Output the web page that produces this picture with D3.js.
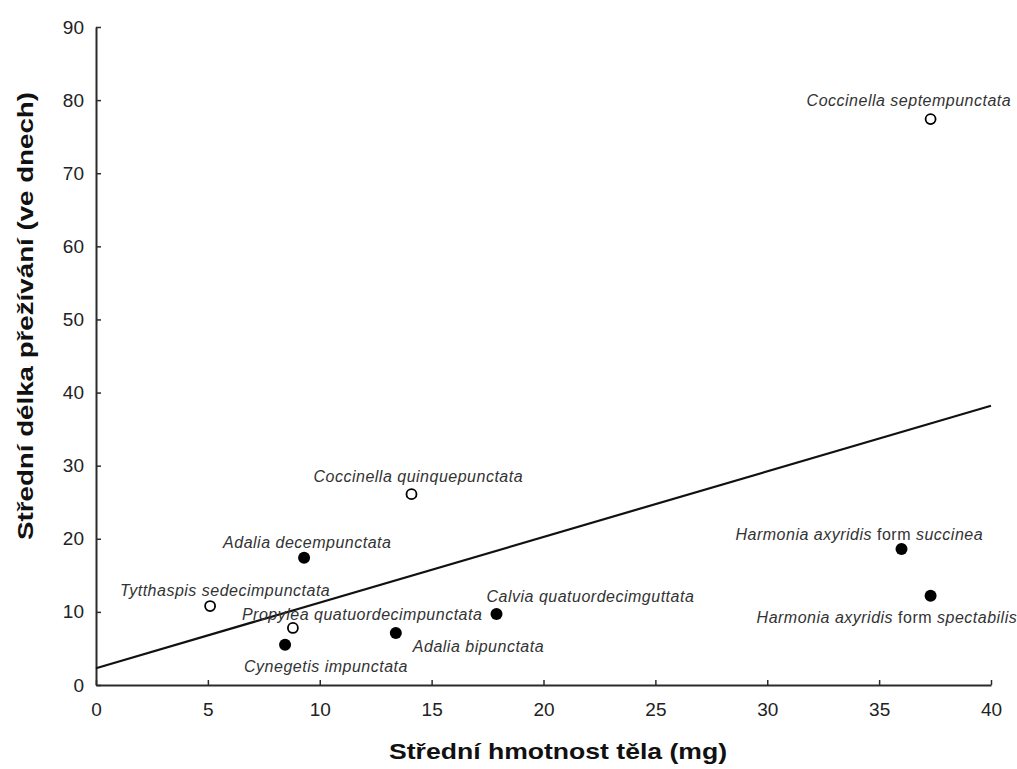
<!DOCTYPE html>
<html>
<head>
<meta charset="utf-8">
<script src="https://cdn.jsdelivr.net/npm/d3@7"></script>
<style>
  body { margin: 0; background: #fff; }
  svg text { font-family: "Liberation Sans", Arial, sans-serif; }
</style>
</head>
<body>
<svg id="chart" width="1017" height="769"></svg>
<script>
// species, body mass (mg), survival (days), open/filled marker
const species = [
  'Coccinella septempunctata',
  'Coccinella quinquepunctata',
  'Adalia decempunctata',
  'Tytthaspis sedecimpunctata',
  'Propylea quatuordecimpunctata',
  'Cynegetis impunctata',
  'Adalia bipunctata',
  'Calvia quatuordecimguttata',
  'Harmonia axyridis form succinea',
  'Harmonia axyridis form spectabilis'
];
const mass = [37.3, 14.1, 9.3, 5.1, 8.8, 8.45, 13.4, 17.9, 36.0, 37.3];
const survival = [77.4, 26.1, 17.4, 10.8, 7.8, 5.5, 7.1, 9.7, 18.6, 12.2];
const openMarker = [true, true, false, true, true, false, false, false, false, false];

const regressionX = [0, 40];
const regressionY = [2.3, 38.2];

const xTicks = [0, 5, 10, 15, 20, 25, 30, 35, 40];
const yTicks = [0, 10, 20, 30, 40, 50, 60, 70, 80, 90];

// label placement relative to its point (px): [dx, dy]
const labelPlace = [
  [-124, -13],
  [-98, -12],
  [-81, -10],
  [-90, -10],
  [-51, -8],
  [-41, 27],
  [17, 19],
  [-10, -12],
  [-166, -9],
  [-174, 27]
];

const svg = d3.select('#chart');
const x = d3.scaleLinear().domain([0, 40]).range([96, 991]);
const y = d3.scaleLinear().domain([0, 90]).range([685, 27]);
const ink = '#2b2b2b';

//X axis
const gx = svg.append('g').attr('transform', `translate(0,${y(0)})`)
  .call(d3.axisBottom(x).tickValues(xTicks).tickSizeInner(-5).tickSizeOuter(0).tickPadding(18));
//Y axis
const gy = svg.append('g').attr('transform', `translate(${x(0)},0)`)
  .call(d3.axisLeft(y).tickValues(yTicks).tickSizeInner(-5).tickSizeOuter(0).tickPadding(12));

[gx, gy].forEach(g => {
  g.select('.domain').attr('stroke', ink).attr('stroke-width', 2);
  g.selectAll('.tick line').attr('stroke', ink).attr('stroke-width', 1.5);
  g.selectAll('.tick text').attr('fill', '#222').attr('font-size', 19)
    .attr('font-family', '"Liberation Sans", Arial, sans-serif');
});

// regression line
svg.append('line')
  .attr('x1', x(regressionX[0])).attr('y1', y(regressionY[0]))
  .attr('x2', x(regressionX[1])).attr('y2', y(regressionY[1]))
  .attr('stroke', '#111').attr('stroke-width', 2.2);

const pts = species.map((s, i) => ({name: s, x: mass[i], y: survival[i], open: openMarker[i], place: labelPlace[i]}));

svg.append('g').selectAll('circle').data(pts).join('circle')
  .attr('cx', d => x(d.x)).attr('cy', d => y(d.y))
  .attr('r', d => d.open ? 5 : 6)
  .attr('fill', d => d.open ? '#fff' : '#000')
  .attr('stroke', '#000').attr('stroke-width', d => d.open ? 1.8 : 0);

const labels = svg.append('g').selectAll('text').data(pts).join('text')
  .attr('x', d => x(d.x) + d.place[0])
  .attr('y', d => y(d.y) + d.place[1])
  .attr('font-size', 16)
  .attr('letter-spacing', 0.5)
  .attr('fill', '#333');

labels.each(function(d) {
  const t = d3.select(this);
  const m = d.name.match(/^(.*) (form) (.*)$/);
  if (m) {
    t.append('tspan').attr('font-style', 'italic').text(m[1] + ' ');
    t.append('tspan').text(m[2] + ' ');
    t.append('tspan').attr('font-style', 'italic').text(m[3]);
  } else {
    t.attr('font-style', 'italic').text(d.name);
  }
});

// axis titles
svg.append('text')
  .attr('x', 558).attr('y', 759)
  .attr('text-anchor', 'middle')
  .attr('font-size', 22).attr('font-weight', 'bold').attr('fill', '#111')
  .attr('textLength', 338).attr('lengthAdjust', 'spacingAndGlyphs')
  .text('Střední hmotnost těla (mg)');

svg.append('text')
  .attr('transform', 'translate(33,316) rotate(-90)')
  .attr('text-anchor', 'middle')
  .attr('font-size', 22).attr('font-weight', 'bold').attr('fill', '#111')
  .attr('textLength', 448).attr('lengthAdjust', 'spacingAndGlyphs')
  .text('Střední délka přežívání (ve dnech)');
</script>
</body>
</html>
